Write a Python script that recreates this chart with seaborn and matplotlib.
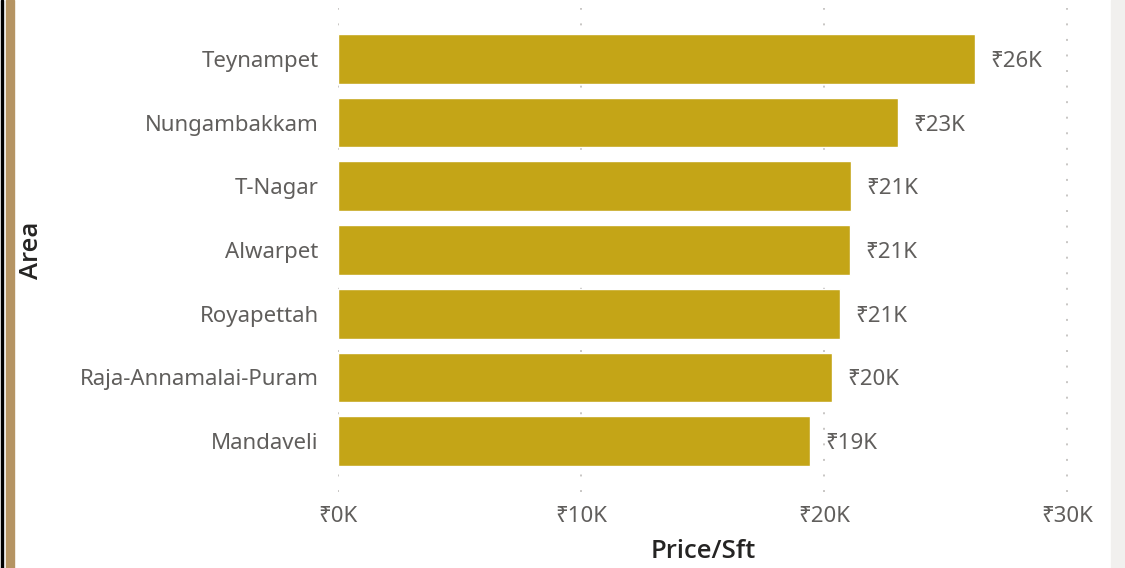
import pandas as pd
import matplotlib.pyplot as plt
import seaborn as sns
from matplotlib.patches import Rectangle

# ============================================== DATA ==============================================
areas = ['Teynampet', 'Nungambakkam', 'T-Nagar', 'Alwarpet', 'Royapettah',
         'Raja-Annamalai-Puram', 'Mandaveli']
price_k = [26.2, 23.05, 21.1, 21.07, 20.66, 20.33, 19.42]   # Price/Sft in thousands
x_ticks = [0, 10, 20, 30]
x_tick_labels = ['₹0K', '₹10K', '₹20K', '₹30K']

df = pd.DataFrame({'Area': areas, 'Price': price_k})

# ============================================== STYLE ==============================================
sns.set_style('white')
plt.rcParams['font.family'] = ['Noto Sans', 'DejaVu Sans']
text_grey = '#605E5C'
bar_color = '#C4A517'
fs = 16

fig = plt.figure(figsize=(11.25, 5.68), dpi=100)
ax = fig.add_axes([338 / 1125, 1 - 492 / 568, (1068 - 338) / 1125, (492 - 8) / 568])

sns.barplot(data=df, x='Price', y='Area', orient='h', color=bar_color,
            width=0.78, saturation=1, ax=ax)

ax.set_xlim(0, 30.04)
ax.set_ylim(6.8, -0.8)

# dotted vertical gridlines
for t in x_ticks:
    ax.axvline(t, color='#C8C6C4', lw=1.4, ls=(0, (1, 7)), zorder=0)

ax.set_xticks(x_ticks)
ax.set_xticklabels(x_tick_labels)
ax.tick_params(axis='x', length=0, pad=10, labelsize=fs, labelcolor=text_grey)
ax.tick_params(axis='y', length=0, pad=14, labelsize=fs, labelcolor=text_grey)
for s in ax.spines.values():
    s.set_visible(False)

# value labels
for i, v in enumerate(price_k):
    ax.text(v + 0.62, i + 0.04, f'₹{v:.0f}K', va='center', ha='left',
            fontsize=fs, color=text_grey)

title_font = dict(fontsize=18.5, color='#252423', fontweight='semibold',
                  family=['Open Sans', 'Noto Sans', 'DejaVu Sans'])
ax.set_xlabel('Price/Sft', labelpad=9, **title_font)
ax.set_ylabel('Area', **title_font)
ax.yaxis.set_label_coords(-294 / 730, 0.5)

# frame decorations: left double border and right grey strip
fig.patches.append(Rectangle((0.0005, 0), 2 / 1125, 1, transform=fig.transFigure,
                             color='black', zorder=5))
fig.patches.append(Rectangle((6 / 1125, 0), 8 / 1125, 1, transform=fig.transFigure,
                             color='#B59463', zorder=5))
fig.patches.append(Rectangle((1111 / 1125, 0), 14 / 1125, 1, transform=fig.transFigure,
                             color='#F1F0EE', zorder=5))

fig.savefig('out.png', dpi=100, facecolor='white')
